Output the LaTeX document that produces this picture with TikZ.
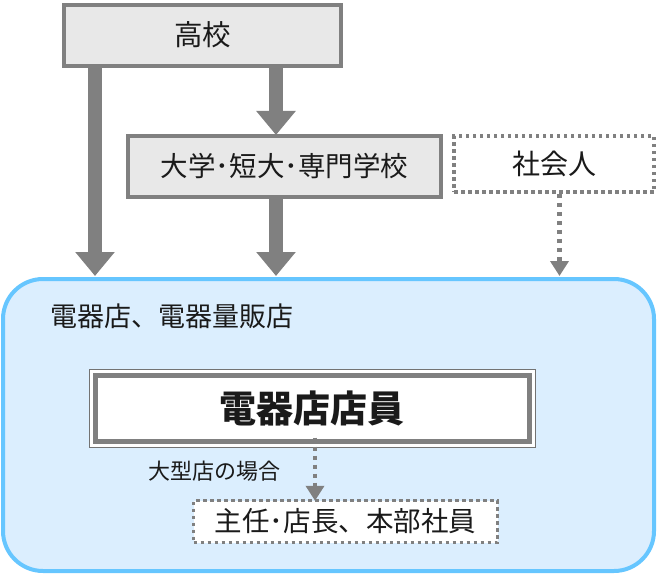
\documentclass[tikz,border=0pt]{standalone}
\usepackage{fontspec}
\setmainfont{Noto Sans CJK JP}
\usetikzlibrary{arrows.meta,calc}
\definecolor{arrgray}{HTML}{808080}
\definecolor{boxfill}{HTML}{E8E8E8}
\definecolor{storefill}{HTML}{DBEEFE}
\definecolor{storeline}{HTML}{66C6FF}
\definecolor{txt}{HTML}{1A1A1A}
\tikzset{
  graybox/.style={draw=arrgray, line width=4pt, fill=boxfill, inner sep=0pt, text=txt},
  dotbox/.style={draw=arrgray, line width=3.5pt, dash pattern=on 3.5pt off 3.5pt, fill=white, inner sep=0pt, text=txt},
  bigarrow/.style={draw=arrgray, line width=14pt, -{Triangle[width=38pt,length=24pt]}},
  dotarrow/.style={draw=arrgray, line width=4.5pt, dash pattern=on 4.5pt off 4.5pt, -{Triangle[width=18pt,length=15pt]}},
  lbl/.style={text=txt, inner sep=0pt}
}
\begin{document}
\begin{tikzpicture}[x=1pt,y=-1pt]
\useasboundingbox (0,0) rectangle (658,575);
% store area
\node[draw=storeline, line width=4pt, fill=storefill, rounded corners=40pt,
      minimum width=651pt, minimum height=292pt, inner sep=0pt] (store) at (328.5,425) {};
% top boxes
\node[graybox, minimum width=277pt, minimum height=61pt, font=\fontsize{28.5}{32}\selectfont] (koko) at (202.5,35.5) {\raisebox{3pt}{高校}};
\node[graybox, minimum width=313pt, minimum height=61pt, font=\fontsize{27.5}{32}\selectfont] (daigaku) at (284.5,166.5) {\raisebox{2pt}{大学･短大･専門学校}};
\node[dotbox, minimum width=200pt, minimum height=56pt, font=\fontsize{28}{32}\selectfont] (shakai) at (554,164) {\raisebox{3pt}{社会人}};
% arrow coordinates
\coordinate (lx) at (95,0);
\coordinate (mx) at (276,0);
\coordinate (rx) at (559.5,0);
\draw[bigarrow] (koko.south -| lx) -- ([yshift=1pt]store.north -| lx);
\draw[bigarrow] (koko.south -| mx) -- ([yshift=-1pt]daigaku.north -| mx);
\draw[bigarrow] (daigaku.south -| mx) -- ([yshift=1pt]store.north -| mx);
\draw[dotarrow] (shakai.south -| rx) -- ([yshift=1pt]store.north -| rx);
% store label
\node[lbl, anchor=west, font=\fontsize{27}{30}\selectfont] (storelbl) at (50,316) {電器店、電器量販店};
% clerk box
\draw[draw=arrgray!90!black, line width=1pt, fill=white] (89,369) rectangle (535,447);
\node[draw=arrgray, line width=5pt, fill=white, minimum width=434pt, minimum height=66pt, inner sep=0pt,
      text=txt, font=\fontsize{37}{42}\selectfont\bfseries] (clerk) at (312,408) {\raisebox{2pt}{電器店店員}};
% promotion
\node[dotbox, minimum width=304pt, minimum height=42pt, font=\fontsize{27.5}{31}\selectfont] (shunin) at (345.5,521.5) {主任･店長、本部社員};
\coordinate (px) at (315,0);
\draw[dotarrow] ([yshift=6pt]clerk.south -| px) -- ([yshift=-2pt]shunin.north -| px);
\node[lbl, anchor=west, font=\fontsize{22}{26}\selectfont] (large) at (148,471) {大型店の場合};
\end{tikzpicture}
\end{document}
